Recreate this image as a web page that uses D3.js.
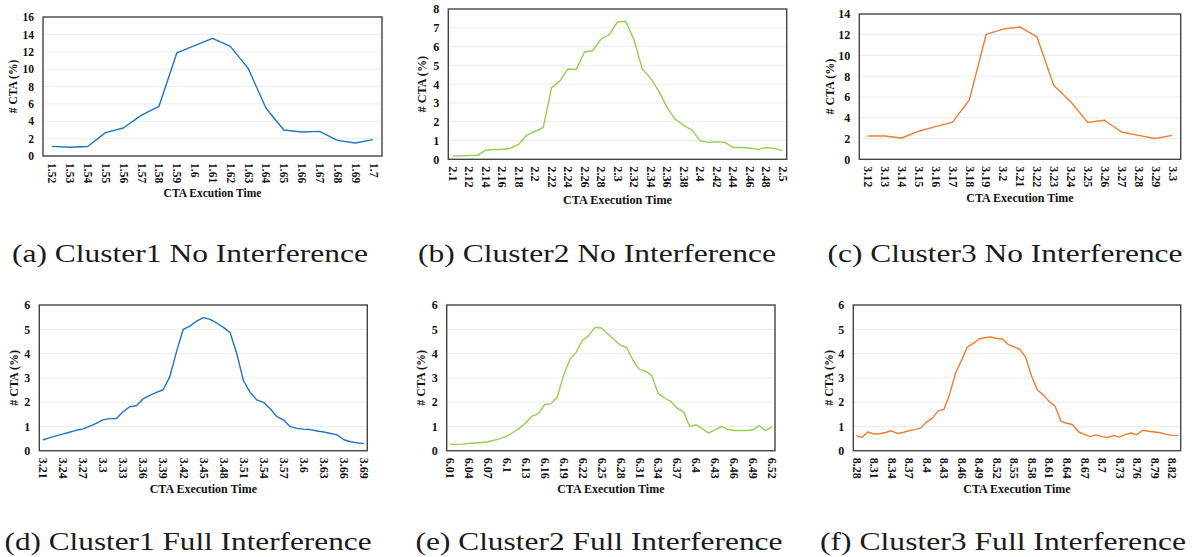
<!DOCTYPE html>
<html>
<head>
<meta charset="utf-8">
<script src="https://cdn.jsdelivr.net/npm/d3@7"></script>
<style>
  html, body { margin: 0; padding: 0; background: #fff; }
  svg { display: block; }
  svg text { font-family: "Liberation Serif", "Times New Roman", Tinos, "Nimbus Roman", serif; }
</style>
</head>
<body>
<svg id="chart" width="1192" height="557"></svg>
<script>
// ---------------- DATA ----------------
const catA = [1.52,1.53,1.54,1.55,1.56,1.57,1.58,1.59,1.6,1.61,1.62,1.63,1.64,1.65,1.66,1.67,1.68,1.69,1.7];
const valA = [1.11,1.0,1.1,2.69,3.22,4.68,5.72,11.86,12.7,13.55,12.62,10.09,5.49,2.99,2.76,2.84,1.8,1.5,1.88];
const ticksA = [1.52,1.53,1.54,1.55,1.56,1.57,1.58,1.59,1.6,1.61,1.62,1.63,1.64,1.65,1.66,1.67,1.68,1.69,1.7];
const yTicksA = [0,2,4,6,8,10,12,14,16];

const catB = [2.1,2.11,2.12,2.13,2.14,2.15,2.16,2.17,2.18,2.19,2.2,2.21,2.22,2.23,2.24,2.25,2.26,2.27,2.28,2.29,2.3,2.31,2.32,2.33,2.34,2.35,2.36,2.37,2.38,2.39,2.4,2.41,2.42,2.43,2.44,2.45,2.46,2.47,2.48,2.49,2.5];
const valB = [0.18,0.18,0.2,0.21,0.48,0.52,0.52,0.58,0.79,1.29,1.48,1.69,3.8,4.16,4.81,4.78,5.71,5.78,6.4,6.63,7.31,7.35,6.36,4.81,4.32,3.63,2.78,2.13,1.81,1.57,0.99,0.9,0.93,0.9,0.63,0.63,0.6,0.53,0.63,0.58,0.46];
const ticksB = [2.1,2.12,2.14,2.16,2.18,2.2,2.22,2.24,2.26,2.28,2.3,2.32,2.34,2.36,2.38,2.4,2.42,2.44,2.46,2.48,2.5];
const yTicksB = [0,1,2,3,4,5,6,7,8];

const catC = [3.12,3.13,3.14,3.15,3.16,3.17,3.18,3.19,3.2,3.21,3.22,3.23,3.24,3.25,3.26,3.27,3.28,3.29,3.3];
const valC = [2.25,2.25,2.05,2.7,3.15,3.56,5.7,12.04,12.55,12.75,11.8,7.1,5.55,3.56,3.76,2.63,2.3,2.0,2.3];
const ticksC = [3.12,3.13,3.14,3.15,3.16,3.17,3.18,3.19,3.2,3.21,3.22,3.23,3.24,3.25,3.26,3.27,3.28,3.29,3.3];
const yTicksC = [0,2,4,6,8,10,12,14];

const catD = [3.21,3.22,3.23,3.24,3.25,3.26,3.27,3.28,3.29,3.3,3.31,3.32,3.33,3.34,3.35,3.36,3.37,3.38,3.39,3.4,3.41,3.42,3.43,3.44,3.45,3.46,3.47,3.48,3.49,3.5,3.51,3.52,3.53,3.54,3.55,3.56,3.57,3.58,3.59,3.6,3.61,3.62,3.63,3.64,3.65,3.66,3.67,3.68,3.69];
const valD = [0.44,0.53,0.61,0.68,0.76,0.84,0.9,1.0,1.13,1.27,1.32,1.32,1.6,1.81,1.85,2.13,2.28,2.4,2.51,3.05,4.08,5.0,5.13,5.34,5.48,5.41,5.26,5.08,4.87,4.0,2.88,2.4,2.09,1.99,1.73,1.4,1.26,0.99,0.92,0.89,0.87,0.81,0.77,0.71,0.65,0.45,0.37,0.32,0.3];
const ticksD = [3.21,3.24,3.27,3.3,3.33,3.36,3.39,3.42,3.45,3.48,3.51,3.54,3.57,3.6,3.63,3.66,3.69];
const yTicksD = [0,1,2,3,4,5,6];

const catE = [6.01,6.02,6.03,6.04,6.05,6.06,6.07,6.08,6.09,6.1,6.11,6.12,6.13,6.14,6.15,6.16,6.17,6.18,6.19,6.2,6.21,6.22,6.23,6.24,6.25,6.26,6.27,6.28,6.29,6.3,6.31,6.32,6.33,6.34,6.35,6.36,6.37,6.38,6.39,6.4,6.41,6.42,6.43,6.44,6.45,6.46,6.47,6.48,6.49,6.5,6.51,6.52];
const valE = [0.26,0.26,0.27,0.3,0.32,0.34,0.37,0.43,0.5,0.6,0.75,0.92,1.14,1.42,1.52,1.9,1.93,2.2,3.1,3.75,4.05,4.55,4.75,5.08,5.05,4.82,4.58,4.35,4.25,3.73,3.35,3.28,3.08,2.35,2.17,2.03,1.75,1.6,1.0,1.07,0.9,0.73,0.86,1.0,0.88,0.83,0.83,0.83,0.86,1.03,0.83,0.98];
const ticksE = [6.01,6.04,6.07,6.1,6.13,6.16,6.19,6.22,6.25,6.28,6.31,6.34,6.37,6.4,6.43,6.46,6.49,6.52];
const yTicksE = [0,1,2,3,4,5,6];

const catF = [8.28,8.29,8.3,8.31,8.32,8.33,8.34,8.35,8.36,8.37,8.38,8.39,8.4,8.41,8.42,8.43,8.44,8.45,8.46,8.47,8.48,8.49,8.5,8.51,8.52,8.53,8.54,8.55,8.56,8.57,8.58,8.59,8.6,8.61,8.62,8.63,8.64,8.65,8.66,8.67,8.68,8.69,8.7,8.71,8.72,8.73,8.74,8.75,8.76,8.77,8.78,8.79,8.8,8.81,8.82,8.83];
const valF = [0.62,0.55,0.77,0.69,0.7,0.75,0.82,0.71,0.75,0.82,0.87,0.93,1.18,1.33,1.64,1.7,2.35,3.2,3.72,4.27,4.42,4.6,4.65,4.68,4.62,4.6,4.37,4.28,4.17,3.83,3.07,2.5,2.3,2.02,1.84,1.22,1.13,1.08,0.78,0.67,0.58,0.65,0.58,0.54,0.63,0.56,0.66,0.73,0.66,0.84,0.8,0.77,0.74,0.67,0.63,0.62];
const ticksF = [8.28,8.31,8.34,8.37,8.4,8.43,8.46,8.49,8.52,8.55,8.58,8.61,8.64,8.67,8.7,8.73,8.76,8.79,8.82];
const yTicksF = [0,1,2,3,4,5,6];

const yTitle = "# CTA (%)";
const xTitles = ["CTA Excution Time","CTA Execution Time","CTA Execution Time","CTA Execution Time","CTA Execution Time","CTA Execution Time"];
const captions = ["(a) Cluster1 No Interference","(b) Cluster2 No Interference","(c) Cluster3 No Interference",
                  "(d) Cluster1 Full Interference","(e) Cluster2 Full Interference","(f) Cluster3 Full Interference"];

// ---------------- LAYOUT / STYLE ----------------
const BLUE = "#1f74c4", GREEN = "#92d050", ORANGE = "#ed7d31";
const panels = [
  {cats:catA, vals:valA, ticks:ticksA, yTicks:yTicksA, color:BLUE,   L:43,    T:17,  R:382,   B:156,   ytx:13.3,  xty:192.7, fs:11.5, cap:{cx:190, by:262, w:356}},
  {cats:catB, vals:valB, ticks:ticksB, yTicks:yTicksB, color:GREEN,  L:448.3, T:9,   R:786.7, B:159.3, ytx:421.7, xty:200,   fs:12.2, cap:{cx:597, by:262, w:358}},
  {cats:catC, vals:valC, ticks:ticksC, yTicks:yTicksC, color:ORANGE, L:859.3, T:14,  R:1180.7,B:159.3, ytx:829.3, xty:197.7, fs:12,   cap:{cx:1005,by:262, w:355}},
  {cats:catD, vals:valD, ticks:ticksD, yTicks:yTicksD, color:BLUE,   L:39.3,  T:305, R:367.3, B:450.7, ytx:13.3,  xty:489,   fs:12,   cap:{cx:188, by:550, w:367}},
  {cats:catE, vals:valE, ticks:ticksE, yTicks:yTicksE, color:GREEN,  L:446.7, T:305, R:775,   B:450.7, ytx:421,   xty:489,   fs:12,   cap:{cx:599, by:550, w:367}},
  {cats:catF, vals:valF, ticks:ticksF, yTicks:yTicksF, color:ORANGE, L:853.3, T:305, R:1180.7,B:450.7, ytx:828.3, xty:489,   fs:12,   cap:{cx:1003,by:550, w:366}},
];

const svg = d3.select("#chart");
svg.append("rect").attr("width",1192).attr("height",557).attr("fill","#fff");

function styleText(sel, fs, bold, fill) {
  sel.attr("font-family", null)
     .style("font-family", '"Liberation Serif", "Times New Roman", Tinos, serif')
     .style("font-weight", bold ? "bold" : "normal")
     .style("font-size", fs + "px")
     .attr("fill", fill || "#111");
}

panels.forEach((p, k) => {
  const g = svg.append("g");
  const x = d3.scalePoint().domain(p.cats.map(String)).range([p.L, p.R]).padding(0.5);
  const yMax = d3.max(p.yTicks);
  const y = d3.scaleLinear().domain([0, yMax]).range([p.B, p.T]);

  // gridlines
  g.append("g").selectAll("line").data(p.yTicks.filter(t => t > 0 && t < yMax)).join("line")
    .attr("x1", p.L).attr("x2", p.R)
    .attr("y1", d => y(d)).attr("y2", d => y(d))
    .attr("stroke", "#ebebeb").attr("stroke-width", 1);

  // line
  const line = d3.line().x((d, i) => x(String(p.cats[i]))).y(d => y(d));
  g.append("path").datum(p.vals).attr("d", line)
    .attr("fill", "none").attr("stroke", p.color).attr("stroke-width", 1.4)
    .attr("stroke-linejoin", "round");

  // plot frame
  g.append("rect").attr("x", p.L).attr("y", p.T).attr("width", p.R - p.L).attr("height", p.B - p.T)
    .attr("fill", "none").attr("stroke", "#444").attr("stroke-width", 1.4);

  // y axis
  const ya = g.append("g").attr("transform", `translate(${p.L},0)`)
    .call(d3.axisLeft(y).tickValues(p.yTicks).tickSize(0).tickPadding(9).tickFormat(d3.format("d")));
  ya.select(".domain").remove();
  ya.attr("font-family", null).attr("font-size", null);
  styleText(ya.selectAll("text"), p.fs, true);

  // x axis
  const xa = g.append("g").attr("transform", `translate(0,${p.B})`)
    .call(d3.axisBottom(x).tickValues(p.ticks.map(String)).tickSize(0).tickPadding(0));
  xa.select(".domain").remove();
  xa.attr("font-family", null).attr("font-size", null);
  styleText(xa.selectAll("text"), p.fs, true);
  xa.selectAll("text")
    .attr("transform", "rotate(90)")
    .attr("text-anchor", "start")
    .attr("x", 7).attr("y", 0).attr("dy", "0.35em");

  // axis titles
  styleText(g.append("text").attr("transform", `translate(${p.ytx},${(p.T + p.B) / 2}) rotate(-90)`)
    .attr("text-anchor", "middle").attr("dy", "0.35em").text(yTitle), p.fs, true);
  styleText(g.append("text").attr("x", (p.L + p.R) / 2).attr("y", p.xty).attr("dy", "0.35em")
    .attr("text-anchor", "middle").text(xTitles[k]), p.fs, true);

  // caption
  styleText(svg.append("text").attr("x", p.cap.cx).attr("y", p.cap.by)
    .attr("text-anchor", "middle")
    .attr("textLength", p.cap.w).attr("lengthAdjust", "spacingAndGlyphs")
    .text(captions[k]), 26, false, "#1a1a1a");
});
</script>
</body>
</html>
